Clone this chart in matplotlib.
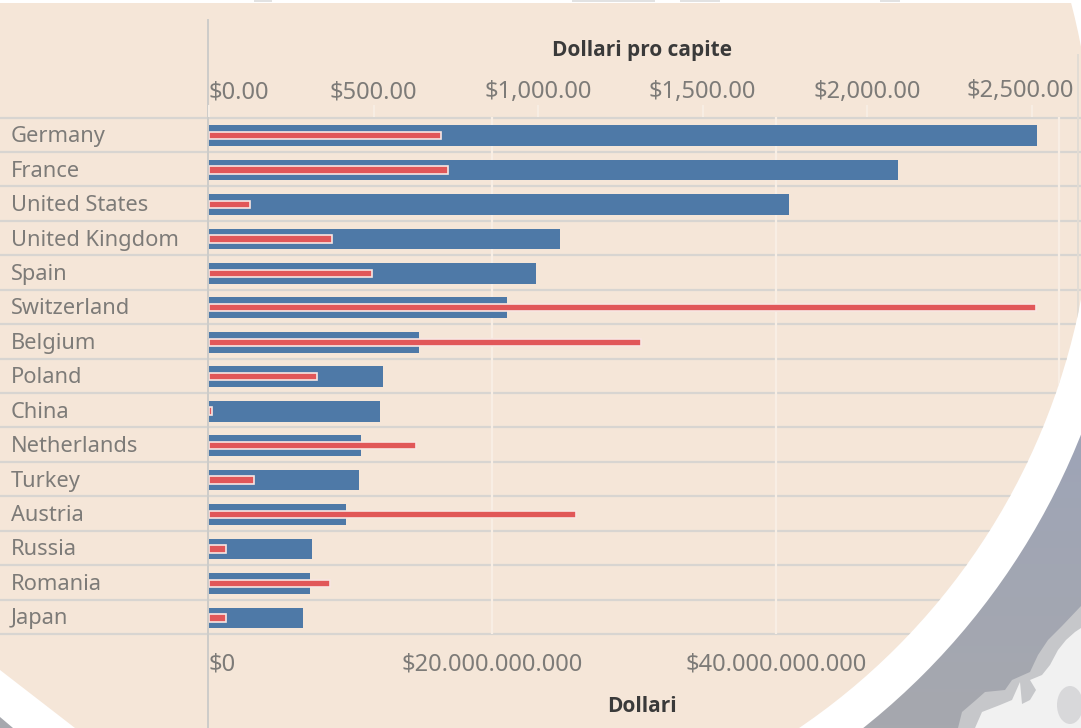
import numpy as np
import matplotlib
matplotlib.use('Agg')
from matplotlib import pyplot as plt
from matplotlib.colors import LinearSegmentedColormap
from matplotlib.patches import Circle, Rectangle, Polygon, Ellipse

countries = ['Germany', 'France', 'United States', 'United Kingdom', 'Spain', 'Switzerland', 'Belgium',
             'Poland', 'China', 'Netherlands', 'Turkey', 'Austria', 'Russia', 'Romania', 'Japan']
# total dollars, billions
totale = [58.4, 48.6, 40.9, 24.8, 23.1, 21.0, 14.8, 12.3, 12.1, 10.7, 10.6, 9.7, 7.3, 7.1, 6.6]
# dollars per head
pro_capite = [705, 726, 125, 374, 495, 2514, 1313, 328, 9, 629, 137, 1115, 52, 368, 52]

ticks_top = [0, 500, 1000, 1500, 2000, 2500]
labels_top = ['$0.00', '$500.00', '$1,000.00', '$1,500.00', '$2,000.00', '$2,500.00']
ticks_bottom = [0, 20, 40]
labels_bottom = ['$0', '$20.000.000.000', '$40.000.000.000']

W, H = 1081, 728
BEIGE = '#f5e6d8'
LINE = '#d8d5d1'
GRID = '#f8eee4'
GREY = '#7d7b78'
plt.rcParams['font.family'] = ['Noto Sans', 'DejaVu Sans']

fig = plt.figure(figsize=(W/100, H/100), dpi=100, facecolor='white')

# background in pixel coordinates: map behind, white ring, beige disc
bg = fig.add_axes([0, 0, 1, 1])
bg.axis('off')
cx, cy = 422, 173
grad = np.linspace(0, 1, 100).reshape(-1, 1)
sea = LinearSegmentedColormap.from_list('sea', ['#9da4b8', '#a6a8ae'])
bg.imshow(grad, extent=[0, W, H, 400], cmap=sea, aspect='auto', zorder=1)
shallow = Polygon([(958, 728), (962, 712), (976, 700), (985, 692), (1005, 690), (1012, 680), (1030, 672),
                   (1038, 655), (1048, 640), (1062, 626), (1081, 606), (1081, 728)], fc='#c6c7ca', ec='none', zorder=2)
bg.add_patch(shallow)
land = Polygon([(975, 728), (982, 712), (1000, 705), (1012, 700), (1020, 682), (1022, 704), (1030, 700), (1036, 690),
                (1030, 680), (1042, 675), (1050, 665), (1058, 650), (1066, 640), (1075, 632), (1081, 628),
                (1081, 728)], fc='#f1f1f1', ec='none', zorder=2)
bg.add_patch(land)
bg.add_patch(Ellipse((1070, 705), 26, 38, fc='#d8d8da', ec='none', zorder=2))
bg.add_patch(Circle((cx, cy), 709, fc='white', ec='none', zorder=3))
disc = Circle((cx, cy), 671, fc=BEIGE, ec='none', zorder=4)
bg.add_patch(disc)
# cut at the lower left, with the corner of the map
bg.add_patch(Polygon([(0, 670), (75, 728), (0, 728)], fc='white', ec='none', zorder=5))
bg.add_patch(Polygon([(0, 717), (13, 728), (0, 728)], fc='#a6a8ae', ec='none', zorder=5))
bg.add_patch(Rectangle((0, 0), W, 3, fc='white', ec='none', zorder=5))
for a, b in [(254, 272), (572, 655), (680, 720), (880, 900)]:
    bg.add_patch(Rectangle((a, 0), b-a, 1.5, fc='#e2e2e2', ec='none', zorder=5))
bg.set_xlim(0, W)
bg.set_ylim(H, 0)

# main axes, bottom scale in billions
x0, x1, y0, y1 = 209, W, 116.5, 633.5
ax = fig.add_axes([x0/W, 1-y1/H, (x1-x0)/W, (y1-y0)/H])
ax.patch.set_alpha(0)
ax.set_xlim(0, (x1-x0)/14.17)
ax.set_ylim(len(countries)-0.5, -0.5)
for s in ax.spines.values():
    s.set_visible(False)

for v in [20, 40, 60]:
    g = ax.axvline(v, color=GRID, lw=1.6, zorder=1)
    g.set_clip_path(disc)
ax.barh(countries, totale, height=0.6, color='#4e79a7', zorder=3)

# top scale per capita
ax2 = ax.twiny()
ax2.patch.set_alpha(0)
ax2.set_xlim(0, (x1-x0)/0.329)
for s in ax2.spines.values():
    s.set_visible(False)
ax2.barh(countries, pro_capite, height=0.215, color='#e15759', edgecolor='#f8e6e2', linewidth=1.2, zorder=4)
ax2.set_ylim(len(countries)-0.5-0.05, -0.5-0.05)

ax.set_xticks(ticks_bottom)
ax.set_xticklabels(labels_bottom, fontsize=17, color=GREY)
for lab, v in zip(ax.get_xticklabels(), ticks_bottom):
    lab.set_ha('left' if v == 0 else 'center')
ax.tick_params(axis='x', length=0, pad=14)
ax.tick_params(axis='y', length=0, labelleft=False)

# the last top label sits left of its tick so it stays on the disc
ax2.set_xticks(ticks_top)
ax2.set_xticklabels(labels_top[:-1]+[''], fontsize=17, color=GREY)
for lab, v in zip(ax2.get_xticklabels(), ticks_top):
    lab.set_ha('left' if v == 0 else 'center')
ax2.tick_params(axis='x', length=9, width=1.4, color=GRID, pad=0, top=True)
ax2.annotate(labels_top[-1], (ticks_top[-1], 1), xycoords=ax2.get_xaxis_transform(), xytext=(-11, 14), textcoords='offset pixels',
             fontsize=17, color=GREY, ha='center', va='bottom', annotation_clip=False)

# row lines, axis lines and labels live in pixel coordinates over the disc
rows = np.linspace(117.5, 634, len(countries)+1)
for y in rows:
    l, = bg.plot([0, W], [y, y], color=LINE, lw=1.6, zorder=6)
    l.set_clip_path(disc)
bg.plot([208, 208], [20, H], color='#cdccc9', lw=1.4, zorder=6)
l, = bg.plot([1078, 1078], [55, 340], color='#e2dcd4', lw=1.4, zorder=6)
l.set_clip_path(disc)
for name, y in zip(countries, (rows[:-1]+rows[1:])/2):
    bg.text(11, y+2, name, fontsize=15.7, color=GREY, va='center', ha='left', zorder=7)
bold = ['Open Sans', 'DejaVu Sans']
bg.text(642, 50.5, 'Dollari pro capite', fontsize=15, fontweight='bold', family=bold, color='#3a3a3a', ha='center', va='center', zorder=7)
bg.text(642, 707, 'Dollari', fontsize=15, fontweight='bold', family=bold, color='#3a3a3a', ha='center', va='center', zorder=7)

fig.savefig('out.png', dpi=100)
